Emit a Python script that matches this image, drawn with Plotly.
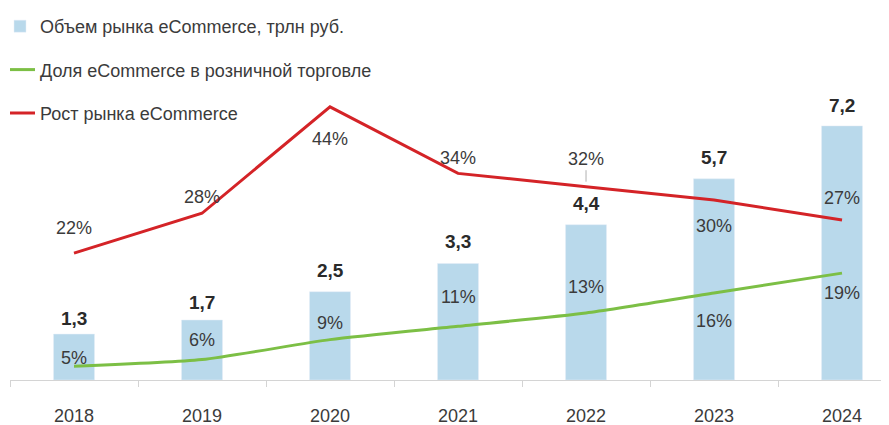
import plotly.graph_objects as go

years = ["2018", "2019", "2020", "2021", "2022", "2023", "2024"]
volume = [1.3, 1.7, 2.5, 3.3, 4.4, 5.7, 7.2]          # трлн руб.
share = [5, 6, 9, 11, 13, 16, 19]                      # %
growth = [22, 28, 44, 34, 32, 30, 27]                  # %

volume_labels = ["1,3", "1,7", "2,5", "3,3", "4,4", "5,7", "7,2"]
share_labels = [f"{v}%" for v in share]
growth_labels = [f"{v}%" for v in growth]

name_volume = "Объем рынка eCommerce, трлн руб."
name_share = "Доля eCommerce в розничной торговле"
name_growth = "Рост рынка eCommerce"

# label placement offsets in pixels (layout only)
vol_shift = [16, 18, 21, 22, 21, 21, 20]
share_shift = [8, 20, 17, 29, 26, -28, -20]
growth_shift = [25, 16, -32, 15, 28, -26, 22]

FONT = "Liberation Sans, Arial, sans-serif"
FS = 18
TXT = "#3b3b3b"
BLUE = "#b9d9eb"
GREEN = "#7cbf45"
RED = "#d42327"

fig = go.Figure()
fig.add_trace(go.Bar(x=years, y=volume, name=name_volume, marker_color=BLUE,
                     legendgroup="a", yaxis="y"))
fig.add_trace(go.Scatter(x=years, y=share, name=name_share, mode="lines",
                         line=dict(color=GREEN, width=3, shape="spline", smoothing=0.6),
                         legendgroup="b", yaxis="y2"))
fig.add_trace(go.Scatter(x=years, y=growth, name=name_growth, mode="lines",
                         line=dict(color=RED, width=3),
                         legendgroup="c", yaxis="y2"))

# annotations on a category axis are positioned by category index
ann = []
for i, (v, t, s) in enumerate(zip(volume, volume_labels, vol_shift)):
    ann.append(dict(x=i, y=v, xref="x", yref="y", text=f"<b>{t}</b>", showarrow=False,
                    yshift=s, yanchor="middle", font=dict(family=FONT, size=FS + 1, color="#2a2a2a")))
for i, (v, t, s) in enumerate(zip(share, share_labels, share_shift)):
    ann.append(dict(x=i, y=v, xref="x", yref="y2", text=t, showarrow=False,
                    yshift=s, yanchor="middle", font=dict(family=FONT, size=FS, color=TXT)))
for i, (v, t, s) in enumerate(zip(growth, growth_labels, growth_shift)):
    if i == 4:
        ann.append(dict(x=i, y=v, xref="x", yref="y2", text=t, showarrow=True,
                        arrowhead=0, arrowwidth=1, arrowcolor="#b0b0b0", ax=0, ay=-s,
                        standoff=5, font=dict(family=FONT, size=FS, color=TXT)))
    else:
        ann.append(dict(x=i, y=v, xref="x", yref="y2", text=t, showarrow=False,
                        yshift=s, yanchor="middle", font=dict(family=FONT, size=FS, color=TXT)))

hidden = dict(showgrid=False, zeroline=False, showline=False, showticklabels=False, ticks="")

fig.update_layout(
    width=881, height=417,
    margin=dict(l=2, r=0, t=0, b=45),
    paper_bgcolor="white", plot_bgcolor="white",
    font=dict(family=FONT, size=FS, color=TXT),
    bargap=0.68,
    showlegend=True,
    legend=dict(x=0, y=1, xanchor="left", yanchor="top", bgcolor="rgba(0,0,0,0)",
                font=dict(family=FONT, size=FS, color=TXT), indentation=-10,
                tracegroupgap=17, traceorder="grouped"),
    xaxis=dict(type="category", range=[-0.5, 6.367], showgrid=False,
               showline=True, linecolor="#d4d4d4", linewidth=1,
               ticks="outside", tickson="boundaries", ticklen=6, tickcolor="#d4d4d4",
               ticklabelstandoff=19,
               tickfont=dict(family=FONT, size=FS, color=TXT)),
    yaxis=dict(range=[0, 10.54], **hidden),
    yaxis2=dict(range=[2.93, 58.87], overlaying="y", **hidden),
    annotations=ann,
)

fig.write_html("out.html")
